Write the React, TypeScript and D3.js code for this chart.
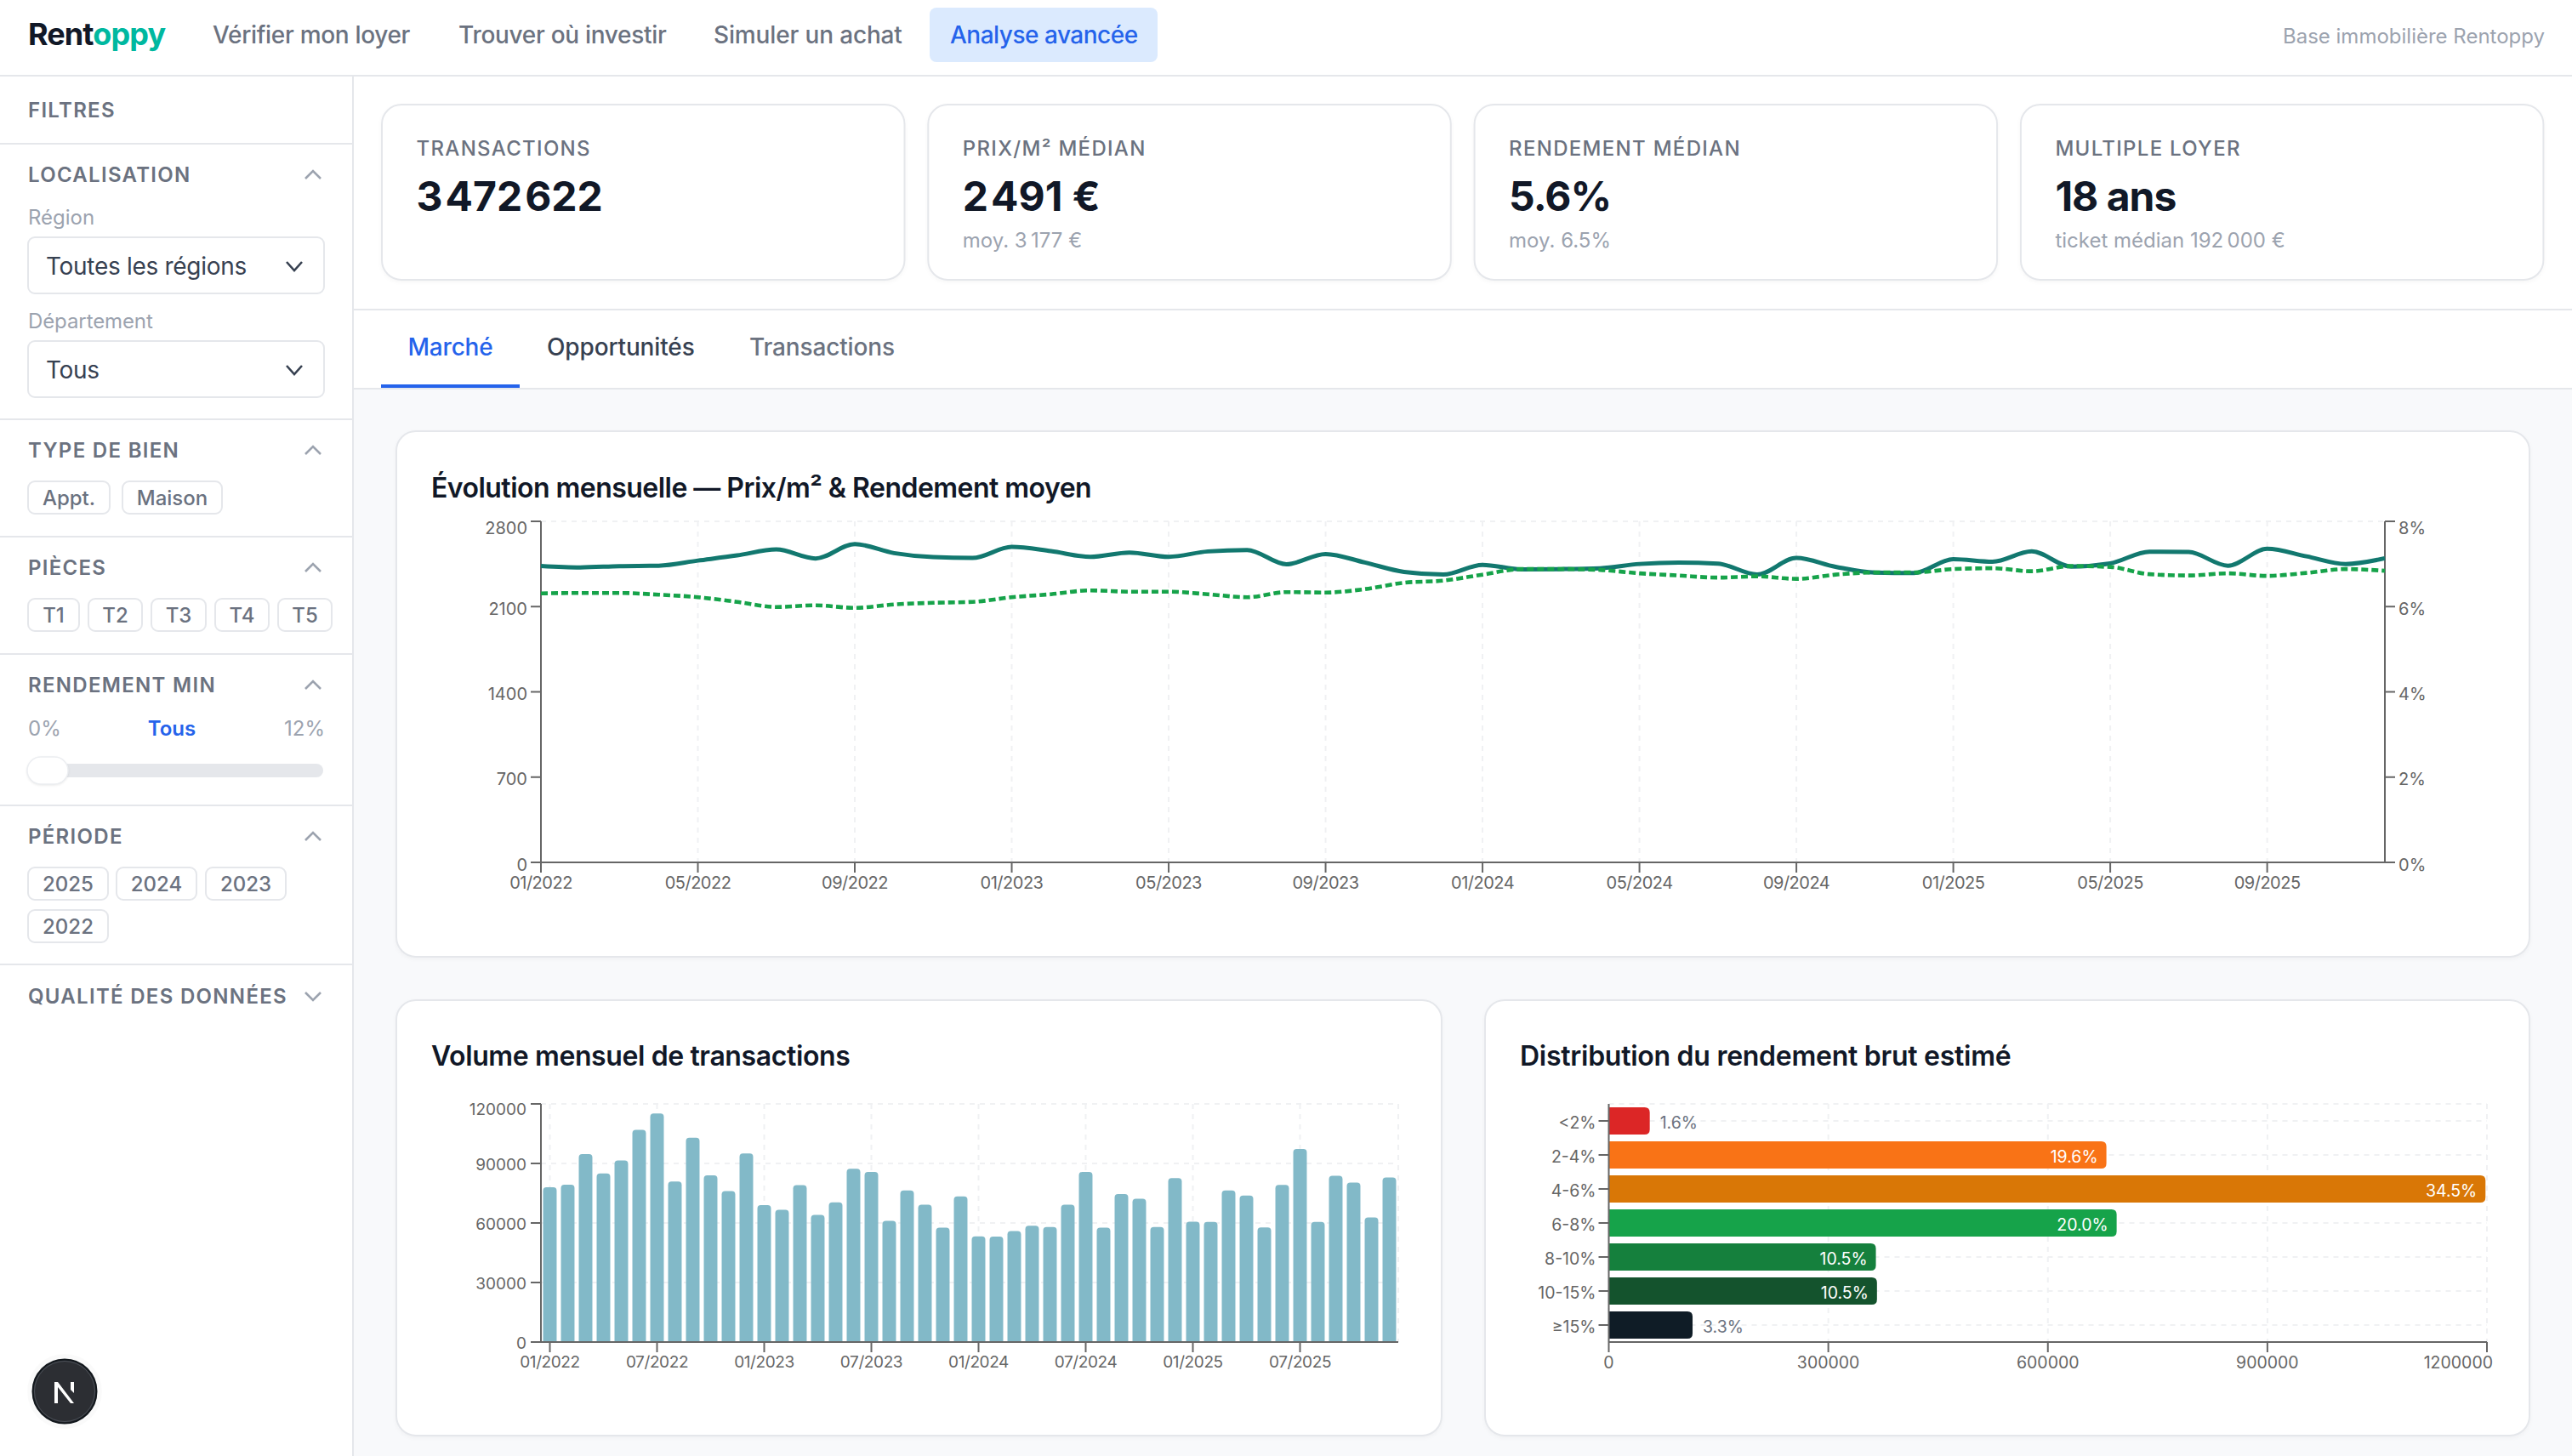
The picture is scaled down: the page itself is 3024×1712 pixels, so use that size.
import * as d3 from "d3";

const FONT = "Inter, sans-serif";
const INK = "#111827";
const GREY = "#6b7280";
const LIGHT = "#9ca3af";
const BORDER = "#e5e7eb";
const BLUE = "#2563eb";
const AXIS = "#666666";
const GRID = "#f0f1f3";

// --------------------
// DATA
// --------------------
const MONTHS = [
  "01/2022", "02/2022", "03/2022", "04/2022", "05/2022", "06/2022", "07/2022", "08/2022", "09/2022", "10/2022", "11/2022", "12/2022",
  "01/2023", "02/2023", "03/2023", "04/2023", "05/2023", "06/2023", "07/2023", "08/2023", "09/2023", "10/2023", "11/2023", "12/2023",
  "01/2024", "02/2024", "03/2024", "04/2024", "05/2024", "06/2024", "07/2024", "08/2024", "09/2024", "10/2024", "11/2024", "12/2024",
  "01/2025", "02/2025", "03/2025", "04/2025", "05/2025", "06/2025", "07/2025", "08/2025", "09/2025", "10/2025", "11/2025", "12/2025",
];

const PRICE = [
  2434, 2422, 2432, 2436, 2478, 2520, 2569, 2495, 2613, 2539, 2506, 2499,
  2590, 2555, 2509, 2544, 2509, 2553, 2565, 2448, 2532, 2462, 2385, 2364,
  2443, 2406, 2408, 2415, 2450, 2462, 2453, 2364, 2499, 2427, 2380, 2376,
  2490, 2469, 2553, 2429, 2455, 2551, 2548, 2436, 2574, 2513, 2450, 2497,
];

const YIELD = [
  6.31, 6.32, 6.32, 6.28, 6.22, 6.11, 5.99, 6.03, 5.97, 6.05, 6.09, 6.11,
  6.22, 6.29, 6.38, 6.35, 6.35, 6.29, 6.22, 6.34, 6.33, 6.41, 6.56, 6.61,
  6.75, 6.88, 6.88, 6.86, 6.78, 6.73, 6.68, 6.71, 6.65, 6.75, 6.8, 6.8,
  6.88, 6.9, 6.83, 6.95, 6.93, 6.76, 6.73, 6.78, 6.72, 6.79, 6.88, 6.84,
];

const VOLUME = [
  78050, 79300, 94750, 85000, 91450, 106900, 115150, 80900, 103000, 84050, 76050, 95000,
  69050, 66600, 79050, 64050, 70350, 87300, 85750, 61050, 76350, 69200, 57650, 73350,
  53200, 53100, 55950, 58650, 57950, 69200, 85750, 57650, 74600, 72200, 57950, 82600,
  60650, 60500, 76350, 73800, 57800, 79200, 97300, 60500, 83750, 80350, 62800, 82900,
];

const PRICE_TICKS = [0, 700, 1400, 2100, 2800];
const YIELD_TICKS = [0, 2, 4, 6, 8];
const TREND_MONTH_TICKS = MONTHS.filter((_, i) => i % 4 === 0);
const VOLUME_TICKS = [0, 30000, 60000, 90000, 120000];
const VOLUME_MONTH_TICKS = MONTHS.filter((_, i) => i % 6 === 0);

const YIELD_BUCKETS = ["<2%", "2-4%", "4-6%", "6-8%", "8-10%", "10-15%", "≥15%"];
const BUCKET_COUNTS = [56000, 680000, 1198000, 694000, 365000, 366500, 114500];
const BUCKET_SHARES = ["1.6%", "19.6%", "34.5%", "20.0%", "10.5%", "10.5%", "3.3%"];
const BUCKET_COLORS = ["#dc2626", "#f97316", "#d97706", "#16a34a", "#15803d", "#14532d", "#0f1c26"];
const COUNT_TICKS = [0, 300000, 600000, 900000, 1200000];

const NAV_ITEMS = [
  { label: "Vérifier mon loyer", x: 250, spacing: -0.32 },
  { label: "Trouver où investir", x: 539, spacing: -0.3 },
  { label: "Simuler un achat", x: 839, spacing: -0.15 },
];

const KPIS = [
  { label: "TRANSACTIONS", value: "3\u202f472\u202f622", sub: "" },
  { label: "PRIX/M² MÉDIAN", value: "2\u202f491 €", sub: "moy. 3\u202f177 €" },
  { label: "RENDEMENT MÉDIAN", value: "5.6%", sub: "moy. 6.5%" },
  { label: "MULTIPLE LOYER", value: "18 ans", sub: "ticket médian 192\u202f000 €" },
];

type Chip = { label: string; x0: number; x1: number; y0: number };

const TYPE_CHIPS: Chip[] = [
  { label: "Appt.", x0: 32, x1: 130, y0: 565 },
  { label: "Maison", x0: 143, x1: 262, y0: 565 },
];
const ROOM_CHIPS: Chip[] = [
  { label: "T1", x0: 32, x1: 94, y0: 703 },
  { label: "T2", x0: 103, x1: 168, y0: 703 },
  { label: "T3", x0: 177, x1: 243, y0: 703 },
  { label: "T4", x0: 252, x1: 317, y0: 703 },
  { label: "T5", x0: 326, x1: 391, y0: 703 },
];
const YEAR_CHIPS: Chip[] = [
  { label: "2025", x0: 32, x1: 128, y0: 1019 },
  { label: "2024", x0: 136, x1: 232, y0: 1019 },
  { label: "2023", x0: 241, x1: 337, y0: 1019 },
  { label: "2022", x0: 32, x1: 128, y0: 1069 },
];

const SECTION_RULES = [169, 493, 631, 769, 947, 1134];
const SECTIONS = [
  { label: "LOCALISATION", y: 205, open: true },
  { label: "TYPE DE BIEN", y: 529, open: true },
  { label: "PIÈCES", y: 667, open: true },
  { label: "RENDEMENT MIN", y: 805, open: true },
  { label: "PÉRIODE", y: 983, open: true },
  { label: "QUALITÉ DES DONNÉES", y: 1171, open: false },
];

type TProps = {
  x: number;
  y: number;
  size: number;
  fill: string;
  weight?: number;
  anchor?: "start" | "middle" | "end";
  spacing?: number;
  children: React.ReactNode;
};

// y is the middle of the capitals, so everything lines up with what was measured
function T({ x, y, size, fill, weight = 400, anchor = "start", spacing = 0, children }: TProps) {
  return (
    <text
      x={x}
      y={y}
      dy="0.36em"
      fontSize={size}
      fill={fill}
      fontWeight={weight}
      textAnchor={anchor}
      letterSpacing={spacing}
    >
      {children}
    </text>
  );
}

function Card({ x0, x1, y0, y1 }: { x0: number; x1: number; y0: number; y1: number }) {
  return (
    <rect
      x={x0 + 1}
      y={y0 + 1}
      width={x1 - x0 - 2}
      height={y1 - y0 - 2}
      rx={23}
      fill="white"
      stroke={BORDER}
      strokeWidth={2}
      style={{ filter: "drop-shadow(0 2px 2px rgba(0,0,0,0.03))" }}
    />
  );
}

function Chips({ items }: { items: Chip[] }) {
  return (
    <g>
      {items.map(c => (
        <g key={c.label}>
          <rect x={c.x0 + 1} y={c.y0 + 1} width={c.x1 - c.x0 - 2} height={38} rx={8} fill="white" stroke={BORDER} strokeWidth={2} />
          <T x={(c.x0 + c.x1) / 2} y={c.y0 + 20} size={24} fill={GREY} weight={500} anchor="middle">{c.label}</T>
        </g>
      ))}
    </g>
  );
}

function Select({ y0, label }: { y0: number; label: string }) {
  return (
    <g>
      <rect x={33} y={y0} width={348} height={66} rx={8} fill="white" stroke={BORDER} strokeWidth={2} />
      <T x={54} y={y0 + 34} size={28} fill="#374151" spacing={-0.3}>{label}</T>
      <path d={`M337 ${y0 + 29} l9 10 l9 -10`} fill="none" stroke="#374151" strokeWidth={2.6} />
    </g>
  );
}

function Sidebar() {
  return (
    <g>
      <rect x={0} y={90} width={414} height={1622} fill="white" />
      <line x1={415} x2={415} y1={90} y2={1712} stroke={BORDER} strokeWidth={2} />
      {SECTION_RULES.map(y => (
        <line key={y} x1={0} x2={414} y1={y} y2={y} stroke={BORDER} strokeWidth={2} />
      ))}
      <T x={33} y={129} size={24} fill={GREY} weight={600} spacing={1.3}>FILTRES</T>
      {SECTIONS.map(s => (
        <g key={s.label}>
          <T x={33} y={s.y} size={24} fill={GREY} weight={600} spacing={1.3}>{s.label}</T>
          <path
            d={s.open ? `M359 ${s.y + 5} l9 -9 l9 9` : `M359 ${s.y - 4} l9 9 l9 -9`}
            fill="none"
            stroke={LIGHT}
            strokeWidth={2.6}
          />
        </g>
      ))}
      <T x={33} y={255} size={24} fill={LIGHT}>Région</T>
      <Select y0={279} label="Toutes les régions" />
      <T x={33} y={377} size={24} fill={LIGHT} spacing={-0.1}>Département</T>
      <Select y0={401} label="Tous" />
      <Chips items={TYPE_CHIPS} />
      <Chips items={ROOM_CHIPS} />
      <T x={33} y={856} size={24} fill={LIGHT}>0%</T>
      <T x={202} y={856} size={24} fill={BLUE} weight={600} anchor="middle">Tous</T>
      <T x={382} y={856} size={24} fill={LIGHT} anchor="end">12%</T>
      <rect x={33} y={898} width={347} height={16} rx={8} fill={BORDER} />
      <rect
        x={32}
        y={890}
        width={48}
        height={32}
        rx={16}
        fill="white"
        stroke="#eceef1"
        strokeWidth={1.5}
        style={{ filter: "drop-shadow(0 1px 1px rgba(0,0,0,0.08))" }}
      />
      <Chips items={YEAR_CHIPS} />
      <circle cx={76} cy={1636} r={44} fill="rgba(0,0,0,0.02)" />
      <circle cx={76} cy={1636} r={37.5} fill="#2c2e33" stroke="#12171c" strokeWidth={2} />
      <circle cx={76} cy={1636} r={35.5} fill="none" stroke="#4b5058" strokeWidth={1} />
      <path d="M64 1650 V1625 H68 L87 1650 H83 L68 1631 V1650 Z M83 1625 H87 V1638 L83 1634 Z" fill="white" />
    </g>
  );
}

function Header() {
  return (
    <g>
      <rect x={0} y={0} width={3024} height={89} fill="white" />
      <line x1={0} x2={3024} y1={89} y2={89} stroke={BORDER} strokeWidth={2} />
      <text x={33} y={53} fontSize={36} fontWeight={700} letterSpacing={-0.9}>
        <tspan fill={INK}>Rent</tspan>
        <tspan fill="#00b8a0">oppy</tspan>
      </text>
      {NAV_ITEMS.map(n => (
        <T key={n.label} x={n.x} y={41} size={28} fill={GREY} weight={500} spacing={n.spacing}>{n.label}</T>
      ))}
      <rect x={1093} y={9} width={268} height={64} rx={8} fill="#dbeafe" />
      <T x={1117} y={41} size={28} fill={BLUE} weight={500} spacing={-0.5}>Analyse avancée</T>
      <T x={2992} y={42} size={24} fill={LIGHT} anchor="end">Base immobilière Rentoppy</T>
    </g>
  );
}

// the thousands gap is tighter in the reference than the font's own narrow space
function KpiValue({ value }: { value: string }) {
  const parts = value.split("\u202f");
  return (
    <>
      {parts.map((part, i) => (
        <tspan key={part} dx={i > 0 ? -4.5 : 0}>
          {part}
          {i < parts.length - 1 ? "\u202f" : ""}
        </tspan>
      ))}
    </>
  );
}

function Kpis() {
  return (
    <g>
      <rect x={416} y={90} width={2608} height={367} fill="white" />
      {KPIS.map((k, i) => {
        const x0 = 448 + i * 642.3;
        return (
          <g key={k.label}>
            <Card x0={x0} x1={x0 + 616.5} y0={122} y1={330} />
            <T x={x0 + 41.5} y={174} size={24} fill={GREY} weight={500} spacing={1.3}>{k.label}</T>
            <T x={x0 + 41.5} y={231} size={48} fill={INK} weight={700} spacing={-1}><KpiValue value={k.value} /></T>
            {k.sub && <T x={x0 + 41.5} y={282} size={24} fill={LIGHT}>{k.sub}</T>}
          </g>
        );
      })}
      <line x1={416} x2={3024} y1={364} y2={364} stroke={BORDER} strokeWidth={2} />
      <line x1={416} x2={3024} y1={457} y2={457} stroke={BORDER} strokeWidth={2} />
      <T x={529.5} y={408} size={28} fill={BLUE} weight={500} anchor="middle" spacing={-0.2}>Marché</T>
      <T x={643} y={408} size={28} fill="#374151" weight={500} spacing={-0.15}>Opportunités</T>
      <T x={881} y={408} size={28} fill={GREY} weight={500} spacing={-0.15}>Transactions</T>
      <rect x={448} y={452} width={163} height={4} fill={BLUE} />
    </g>
  );
}

function TrendChart() {
  const left = 636;
  const right = 2804;
  const top = 613;
  const bottom = 1014;

  const x = d3.scalePoint<string>().domain(MONTHS).range([left, right]);
  const yPrice = d3.scaleLinear().domain([0, 2800]).range([bottom, top]);
  const yYield = d3.scaleLinear().domain([0, 8]).range([bottom, top]);

  const priceLine = d3.line<number>()
    .x((_, i) => x(MONTHS[i]) as number)
    .y(d => yPrice(d))
    .curve(d3.curveMonotoneX);
  const yieldLine = d3.line<number>()
    .x((_, i) => x(MONTHS[i]) as number)
    .y(d => yYield(d))
    .curve(d3.curveMonotoneX);

  return (
    <g>
      <Card x0={465} x1={2975} y0={506} y1={1126} />
      <T x={507} y={573} size={32} fill={INK} weight={600} spacing={-0.53}>Évolution mensuelle — Prix/m² & Rendement moyen</T>

      {/* GRID */}
      <line x1={left} x2={right} y1={top} y2={top} stroke={GRID} strokeWidth={2} strokeDasharray="6 6" />
      {TREND_MONTH_TICKS.map(m => (
        <line key={m} x1={x(m)} x2={x(m)} y1={top} y2={bottom} stroke={GRID} strokeWidth={2} strokeDasharray="6 6" />
      ))}

      {/* AXES */}
      <line x1={left} x2={left} y1={top} y2={bottom} stroke={AXIS} strokeWidth={2} />
      <line x1={right} x2={right} y1={top} y2={bottom} stroke={AXIS} strokeWidth={2} />
      <line x1={left} x2={right} y1={bottom} y2={bottom} stroke={AXIS} strokeWidth={2} />
      {PRICE_TICKS.map(t => (
        <g key={t}>
          <line x1={left - 12} x2={left} y1={yPrice(t)} y2={yPrice(t)} stroke={AXIS} strokeWidth={2} />
          <T x={left - 16} y={yPrice(t) + (t === 2800 ? 8 : 2.5)} size={20} fill={AXIS} anchor="end">{t}</T>
        </g>
      ))}
      {YIELD_TICKS.map(t => (
        <g key={t}>
          <line x1={right} x2={right + 12} y1={yYield(t)} y2={yYield(t)} stroke={AXIS} strokeWidth={2} />
          <T x={right + 16} y={yYield(t) + (t === 8 ? 8 : 2.5)} size={20} fill={AXIS}>{t}%</T>
        </g>
      ))}
      {TREND_MONTH_TICKS.map(m => (
        <g key={m}>
          <line x1={x(m)} x2={x(m)} y1={bottom} y2={bottom + 12} stroke={AXIS} strokeWidth={2} />
          <T x={x(m) as number} y={1038} size={20} fill={AXIS} anchor="middle" spacing={-0.5}>{m}</T>
        </g>
      ))}

      {/* LINES */}
      <path d={priceLine(PRICE) ?? ""} fill="none" stroke="#12786f" strokeWidth={5} />
      <path d={yieldLine(YIELD) ?? ""} fill="none" stroke="#16a34a" strokeWidth={4.6} strokeDasharray="8 4" />
    </g>
  );
}

function VolumeChart() {
  const left = 636;
  const right = 1644;
  const top = 1298;
  const bottom = 1578;

  const x = d3.scaleBand<string>().domain(MONTHS).range([left, right]).paddingInner(0.24).paddingOuter(0.12);
  const y = d3.scaleLinear().domain([0, 120000]).range([bottom, top]);
  const center = (m: string) => (x(m) as number) + x.bandwidth() / 2;
  const barPath = (v: number, m: string) => {
    const x0 = x(m) as number;
    const w = x.bandwidth();
    const r = 4;
    return `M${x0} ${bottom} V${y(v) + r} Q${x0} ${y(v)} ${x0 + r} ${y(v)} H${x0 + w - r} Q${x0 + w} ${y(v)} ${x0 + w} ${y(v) + r} V${bottom} Z`;
  };

  return (
    <g>
      <Card x0={465} x1={1696} y0={1175} y1={1689} />
      <T x={507} y={1241} size={32} fill={INK} weight={600} spacing={-0.39}>Volume mensuel de transactions</T>

      {/* GRID */}
      {VOLUME_TICKS.filter(t => t > 0).map(t => (
        <line key={t} x1={left} x2={right} y1={y(t)} y2={y(t)} stroke={GRID} strokeWidth={2} strokeDasharray="6 6" />
      ))}
      {VOLUME_MONTH_TICKS.map(m => (
        <line key={m} x1={center(m)} x2={center(m)} y1={top} y2={bottom} stroke={GRID} strokeWidth={2} strokeDasharray="6 6" />
      ))}
      <line x1={right} x2={right} y1={top} y2={bottom} stroke={GRID} strokeWidth={2} strokeDasharray="6 6" />

      {/* BARS */}
      {VOLUME.map((v, i) => (
        <path key={MONTHS[i]} d={barPath(v, MONTHS[i])} fill="#82b9c8" />
      ))}

      {/* AXES */}
      <line x1={left} x2={left} y1={top} y2={bottom} stroke={AXIS} strokeWidth={2} />
      <line x1={left} x2={right} y1={bottom} y2={bottom} stroke={AXIS} strokeWidth={2} />
      {VOLUME_TICKS.map(t => (
        <g key={t}>
          <line x1={left - 12} x2={left} y1={y(t)} y2={y(t)} stroke={AXIS} strokeWidth={2} />
          <T x={left - 17} y={y(t) + (t === 120000 ? 6 : 1.5)} size={19} fill={AXIS} anchor="end">{t}</T>
        </g>
      ))}
      {VOLUME_MONTH_TICKS.map(m => (
        <g key={m}>
          <line x1={center(m)} x2={center(m)} y1={bottom} y2={bottom + 12} stroke={AXIS} strokeWidth={2} />
          <T x={center(m)} y={1601} size={19} fill={AXIS} anchor="middle" spacing={-0.4}>{m}</T>
        </g>
      ))}
    </g>
  );
}

function YieldDistribution() {
  const left = 1891.5;
  const right = 2924;
  const top = 1298;
  const bottom = 1578;

  const x = d3.scaleLinear().domain([0, 1200000]).range([left, right]);
  const y = d3.scaleBand<string>().domain(YIELD_BUCKETS).range([top, bottom]).paddingInner(0.2).paddingOuter(0.1);
  const center = (b: string) => (y(b) as number) + y.bandwidth() / 2;
  const barPath = (v: number, b: string) => {
    const y0 = y(b) as number;
    const h = y.bandwidth();
    const r = 6;
    return `M${left} ${y0} H${x(v) - r} Q${x(v)} ${y0} ${x(v)} ${y0 + r} V${y0 + h - r} Q${x(v)} ${y0 + h} ${x(v) - r} ${y0 + h} H${left} Z`;
  };

  return (
    <g>
      <Card x0={1745} x1={2975} y0={1175} y1={1689} />
      <T x={1787} y={1241} size={32} fill={INK} weight={600} spacing={-0.27}>Distribution du rendement brut estimé</T>

      {/* GRID */}
      <line x1={left} x2={right} y1={top} y2={top} stroke={GRID} strokeWidth={2} strokeDasharray="6 6" />
      {YIELD_BUCKETS.map(b => (
        <line key={b} x1={left} x2={right} y1={center(b)} y2={center(b)} stroke={GRID} strokeWidth={2} strokeDasharray="6 6" />
      ))}
      {COUNT_TICKS.map(t => (
        <line key={t} x1={x(t)} x2={x(t)} y1={top} y2={bottom} stroke={GRID} strokeWidth={2} strokeDasharray="6 6" />
      ))}

      {/* BARS */}
      {BUCKET_COUNTS.map((v, i) => {
        const b = YIELD_BUCKETS[i];
        const inside = v > 200000;
        return (
          <g key={b}>
            <path d={barPath(v, b)} fill={BUCKET_COLORS[i]} />
            <T
              x={inside ? x(v) - 10 : x(v) + 12}
              y={center(b) + 1.5}
              size={19.5}
              fill={inside ? "white" : GREY}
              anchor={inside ? "end" : "start"}
            >
              {BUCKET_SHARES[i]}
            </T>
          </g>
        );
      })}

      {/* AXES */}
      <line x1={left} x2={left} y1={top} y2={bottom} stroke={AXIS} strokeWidth={2} />
      <line x1={left} x2={right} y1={bottom} y2={bottom} stroke={AXIS} strokeWidth={2} />
      {YIELD_BUCKETS.map(b => (
        <g key={b}>
          <line x1={left - 12} x2={left} y1={center(b)} y2={center(b)} stroke={AXIS} strokeWidth={2} />
          <T x={left - 15} y={center(b) + 1.5} size={19.5} fill={AXIS} anchor="end">{b}</T>
        </g>
      ))}
      {COUNT_TICKS.map(t => (
        <g key={t}>
          <line x1={x(t)} x2={x(t)} y1={bottom} y2={bottom + 12} stroke={AXIS} strokeWidth={2} />
          <T
            x={t === 1200000 ? x(t) + 7 : x(t)}
            y={1602}
            size={19.5}
            fill={AXIS}
            anchor={t === 1200000 ? "end" : "middle"}
          >
            {t}
          </T>
        </g>
      ))}
    </g>
  );
}

export default function App() {
  return (
    <svg
      width={3024}
      height={1712}
      viewBox="0 0 3024 1712"
      style={{ position: "absolute", left: 0, top: 0, display: "block", background: "#f8f9fb", fontFamily: FONT }}
    >
      <Header />
      <Kpis />
      <TrendChart />
      <VolumeChart />
      <YieldDistribution />
      <Sidebar />
    </svg>
  );
}
